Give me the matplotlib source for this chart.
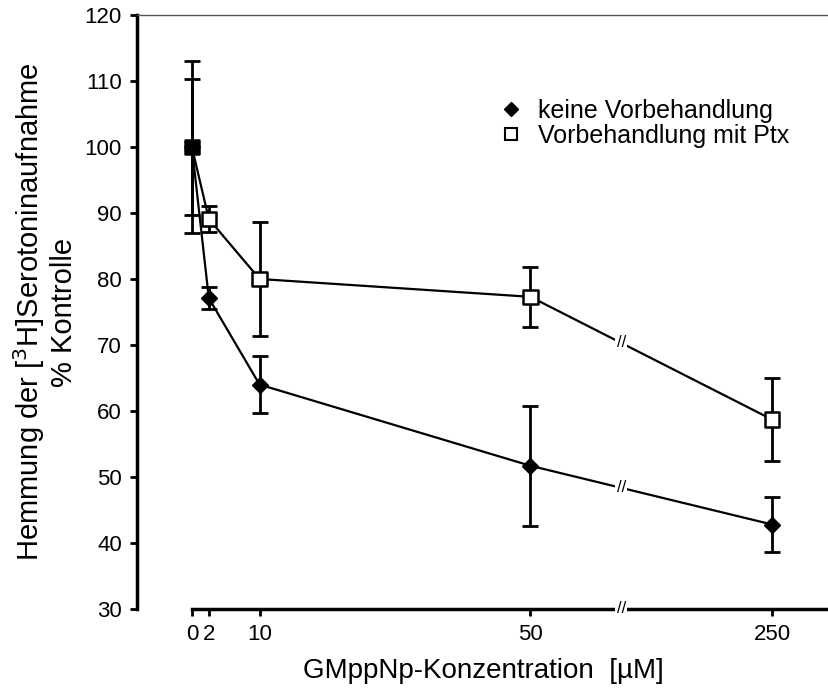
import matplotlib.pyplot as plt
from matplotlib.lines import Line2D

plt.rcParams['font.family'] = ['Liberation Sans', 'DejaVu Sans']

# data
conc_labels = ['0', '2', '10', '50', '250']
x_pos = [0, 2.5, 10, 50, 85.7]          # broken axis: 250 drawn after the break
x_break = 63.4

keine = [100, 77.1, 64.0, 51.7, 42.8]
keine_err = [13.0, 1.7, 4.3, 9.1, 4.2]
ptx = [100, 89.1, 80.0, 77.3, 58.7]
ptx_err = [10.3, 2.0, 8.7, 4.5, 6.3]
ptx_face = ['black', 'white', 'white', 'white', 'white']

fig = plt.figure(figsize=(8.29, 6.91), dpi=100)
ax = fig.add_axes([0.1653, 0.1187, 0.8347, 0.8596])

# Ptx series
ax.errorbar(x_pos, ptx, yerr=ptx_err, fmt='none', ecolor='black',
            elinewidth=2, capsize=5.5, capthick=2, zorder=2)
ax.plot(x_pos, ptx, color='black', lw=1.6, zorder=3)
ax.scatter(x_pos, ptx, marker='s', s=110, facecolors=ptx_face,
           edgecolors='black', linewidths=1.8, zorder=4)

# keine Vorbehandlung
ax.errorbar(x_pos, keine, yerr=keine_err, fmt='none', ecolor='black',
            elinewidth=2, capsize=5.5, capthick=2, zorder=2)
ax.plot(x_pos, keine, color='black', lw=1.6, zorder=3)
ax.plot(x_pos, keine, linestyle='none', marker='D', markersize=8,
        color='black', zorder=5)

# break marks on the lines and on the x axis
for ys in (ptx, keine):
    frac = (x_break - x_pos[3]) / (x_pos[4] - x_pos[3])
    yb = ys[3] + frac * (ys[4] - ys[3])
    ax.text(x_break, yb, '//', fontsize=12, ha='center', va='center',
            bbox=dict(facecolor='white', edgecolor='none', pad=0.8), zorder=6)
ax.text(x_break, 30, '//', fontsize=12, ha='center', va='center',
        bbox=dict(facecolor='white', edgecolor='none', pad=0.8), zorder=6,
        clip_on=False)

ax.set_xlim(-8.1, 94.1)
ax.set_ylim(30, 120)
ax.set_yticks(range(30, 121, 10))
ax.set_xticks(x_pos)
ax.set_xticklabels(conc_labels)

ax.spines['right'].set_visible(False)
ax.spines['top'].set_color('#555555')
ax.spines['top'].set_linewidth(1)
ax.spines['left'].set_linewidth(2.5)
ax.spines['bottom'].set_linewidth(2.5)
ax.spines['bottom'].set_bounds(0, 94.1)

ax.tick_params(axis='both', direction='out', length=5, width=2,
               labelsize=16, pad=6)

ax.set_xlabel('GMppNp-Konzentration  [µM]', fontsize=20, labelpad=9)
ax.set_ylabel('Hemmung der [$^3$H]Serotoninaufnahme\n% Kontrolle',
              fontsize=21, labelpad=5, linespacing=1.1)

handles = [Line2D([], [], linestyle='none', marker='D', markersize=7,
                  color='black'),
           Line2D([], [], linestyle='none', marker='s', markersize=9,
                  markerfacecolor='white', markeredgecolor='black',
                  markeredgewidth=1.5)]
ax.legend(handles, ['keine Vorbehandlung', 'Vorbehandlung mit Ptx'],
          loc='upper left', bbox_to_anchor=(0.5, 0.88), frameon=False,
          fontsize=18, handletextpad=0.5, labelspacing=0.05,
          handlelength=1.2, borderpad=0)

fig.savefig('out.png', dpi=100)
